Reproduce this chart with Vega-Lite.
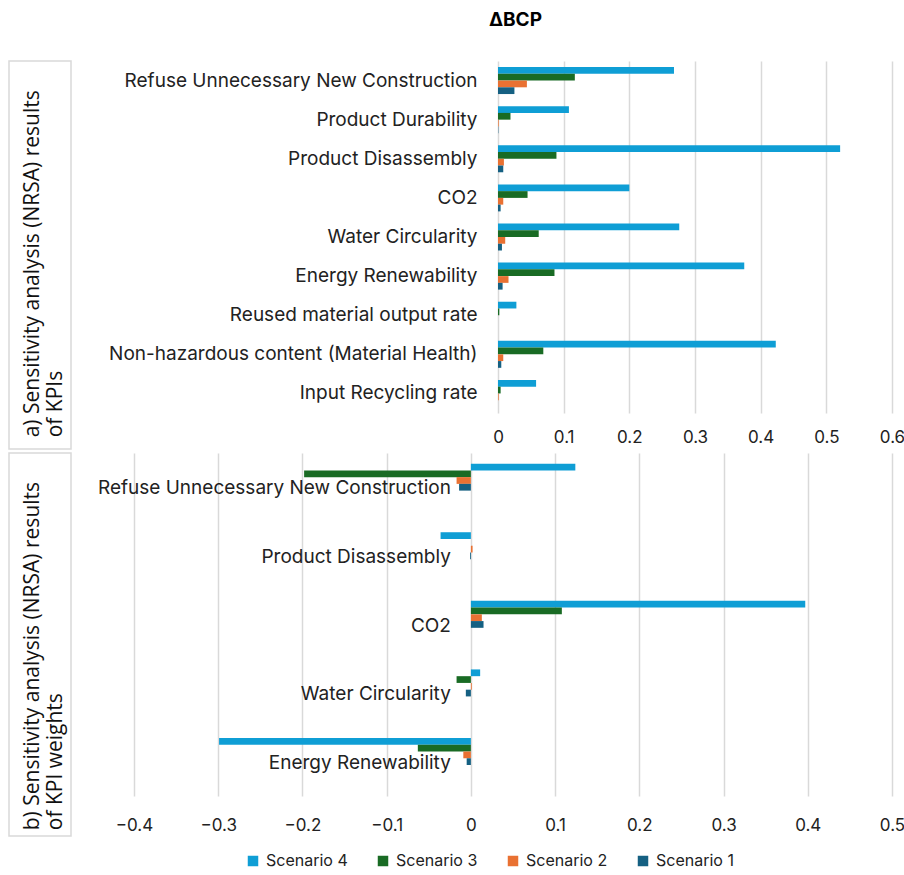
{
  "$schema": "https://vega.github.io/schema/vega-lite/v6.json",
  "padding": {"left": 8, "top": 11, "right": 5, "bottom": 5},
  "title": {"text": "ΔBCP", "fontSize": 19, "fontWeight": "bold", "font": "Inter", "color": "#000000", "anchor": "middle", "dx": 59, "offset": 30},
  "datasets": {
    "kpi": [
      {"category": "Refuse Unnecessary New Construction", "scenario": "Scenario 4", "value": 0.268},
      {"category": "Refuse Unnecessary New Construction", "scenario": "Scenario 3", "value": 0.117},
      {"category": "Refuse Unnecessary New Construction", "scenario": "Scenario 2", "value": 0.044},
      {"category": "Refuse Unnecessary New Construction", "scenario": "Scenario 1", "value": 0.025},
      {"category": "Product Durability", "scenario": "Scenario 4", "value": 0.108},
      {"category": "Product Durability", "scenario": "Scenario 3", "value": 0.019},
      {"category": "Product Durability", "scenario": "Scenario 2", "value": 0.001},
      {"category": "Product Durability", "scenario": "Scenario 1", "value": 0.0005},
      {"category": "Product Disassembly", "scenario": "Scenario 4", "value": 0.521},
      {"category": "Product Disassembly", "scenario": "Scenario 3", "value": 0.089},
      {"category": "Product Disassembly", "scenario": "Scenario 2", "value": 0.009},
      {"category": "Product Disassembly", "scenario": "Scenario 1", "value": 0.008},
      {"category": "CO2", "scenario": "Scenario 4", "value": 0.2},
      {"category": "CO2", "scenario": "Scenario 3", "value": 0.045},
      {"category": "CO2", "scenario": "Scenario 2", "value": 0.008},
      {"category": "CO2", "scenario": "Scenario 1", "value": 0.004},
      {"category": "Water Circularity", "scenario": "Scenario 4", "value": 0.276},
      {"category": "Water Circularity", "scenario": "Scenario 3", "value": 0.062},
      {"category": "Water Circularity", "scenario": "Scenario 2", "value": 0.011},
      {"category": "Water Circularity", "scenario": "Scenario 1", "value": 0.006},
      {"category": "Energy Renewability", "scenario": "Scenario 4", "value": 0.375},
      {"category": "Energy Renewability", "scenario": "Scenario 3", "value": 0.086},
      {"category": "Energy Renewability", "scenario": "Scenario 2", "value": 0.016},
      {"category": "Energy Renewability", "scenario": "Scenario 1", "value": 0.007},
      {"category": "Reused material output rate", "scenario": "Scenario 4", "value": 0.028},
      {"category": "Reused material output rate", "scenario": "Scenario 3", "value": 0.002},
      {"category": "Reused material output rate", "scenario": "Scenario 2", "value": 0},
      {"category": "Reused material output rate", "scenario": "Scenario 1", "value": 0},
      {"category": "Non-hazardous content (Material Health)", "scenario": "Scenario 4", "value": 0.423},
      {"category": "Non-hazardous content (Material Health)", "scenario": "Scenario 3", "value": 0.069},
      {"category": "Non-hazardous content (Material Health)", "scenario": "Scenario 2", "value": 0.008},
      {"category": "Non-hazardous content (Material Health)", "scenario": "Scenario 1", "value": 0.005},
      {"category": "Input Recycling rate", "scenario": "Scenario 4", "value": 0.058},
      {"category": "Input Recycling rate", "scenario": "Scenario 3", "value": 0.004},
      {"category": "Input Recycling rate", "scenario": "Scenario 2", "value": 0.001},
      {"category": "Input Recycling rate", "scenario": "Scenario 1", "value": 0}
    ],
    "weights": [
      {"category": "Refuse Unnecessary New Construction", "scenario": "Scenario 4", "value": 0.124},
      {"category": "Refuse Unnecessary New Construction", "scenario": "Scenario 3", "value": -0.198},
      {"category": "Refuse Unnecessary New Construction", "scenario": "Scenario 2", "value": -0.017},
      {"category": "Refuse Unnecessary New Construction", "scenario": "Scenario 1", "value": -0.014},
      {"category": "Product Disassembly", "scenario": "Scenario 4", "value": -0.036},
      {"category": "Product Disassembly", "scenario": "Scenario 3", "value": 0},
      {"category": "Product Disassembly", "scenario": "Scenario 2", "value": 0.002},
      {"category": "Product Disassembly", "scenario": "Scenario 1", "value": -0.001},
      {"category": "CO2", "scenario": "Scenario 4", "value": 0.397},
      {"category": "CO2", "scenario": "Scenario 3", "value": 0.108},
      {"category": "CO2", "scenario": "Scenario 2", "value": 0.013},
      {"category": "CO2", "scenario": "Scenario 1", "value": 0.015},
      {"category": "Water Circularity", "scenario": "Scenario 4", "value": 0.011},
      {"category": "Water Circularity", "scenario": "Scenario 3", "value": -0.017},
      {"category": "Water Circularity", "scenario": "Scenario 2", "value": 0.001},
      {"category": "Water Circularity", "scenario": "Scenario 1", "value": -0.006},
      {"category": "Energy Renewability", "scenario": "Scenario 4", "value": -0.299},
      {"category": "Energy Renewability", "scenario": "Scenario 3", "value": -0.063},
      {"category": "Energy Renewability", "scenario": "Scenario 2", "value": -0.009},
      {"category": "Energy Renewability", "scenario": "Scenario 1", "value": -0.005}
    ]
  },
  "spacing": 2,
  "vconcat": [
    {
      "bounds": "flush",
      "spacing": 427,
      "hconcat": [
        {
          "width": 62,
          "height": 388,
          "view": {"stroke": "#d9d9d9", "strokeWidth": 1.5},
          "data": {"values": [{"t": "a) Sensitivity analysis (NRSA) results\nof KPIs"}]},
          "mark": {"type": "text", "angle": 270, "align": "left", "baseline": "middle", "font": "Open Sans", "fontSize": 21, "lineHeight": 23, "lineBreak": "\n", "color": "#111111"},
          "encoding": {
            "text": {"field": "t"},
            "x": {"datum": 0.38, "type": "quantitative", "scale": {"domain": [0, 1]}, "axis": null},
            "y": {"datum": 0.03, "type": "quantitative", "scale": {"domain": [0, 1]}, "axis": null}
          }
        },
        {
          "width": 394,
          "height": 352,
          "data": {"name": "kpi"},
          "mark": {"type": "bar"},
          "encoding": {
            "y": {"field": "category", "type": "nominal",
              "sort": ["Refuse Unnecessary New Construction", "Product Durability", "Product Disassembly", "CO2", "Water Circularity", "Energy Renewability", "Reused material output rate", "Non-hazardous content (Material Health)", "Input Recycling rate"],
              "scale": {"paddingInner": 0.31, "paddingOuter": 0.155},
              "axis": {"title": null, "domain": false, "ticks": false, "labelFontSize": 19, "labelPadding": 21, "labelLimit": 600}},
            "yOffset": {"field": "scenario", "type": "nominal", "sort": ["Scenario 4", "Scenario 3", "Scenario 2", "Scenario 1"], "scale": {"paddingInner": 0, "paddingOuter": 0}},
            "x": {"field": "value", "type": "quantitative", "scale": {"domain": [0, 0.6], "nice": false},
              "axis": {"title": null, "values": [0, 0.1, 0.2, 0.3, 0.4, 0.5, 0.6], "format": ".1~f", "grid": true, "domain": false, "ticks": false, "labelFlush": false, "labelPadding": 16, "labelFontSize": 17}},
            "color": {"field": "scenario", "type": "nominal",
              "scale": {"domain": ["Scenario 4", "Scenario 3", "Scenario 2", "Scenario 1"], "range": ["#0F9ED5", "#196B24", "#E97132", "#156082"]},
              "legend": {"title": null, "orient": "none", "legendX": 236, "legendY": 792, "direction": "horizontal", "symbolType": "square", "symbolSize": 110, "symbolStrokeWidth": 0, "labelFontSize": 16, "labelFont": "Inter", "labelColor": "#222222", "columnPadding": 27, "labelOffset": 5}}
          }
        }
      ]
    },
    {
      "bounds": "flush",
      "spacing": 63,
      "hconcat": [
        {
          "width": 62,
          "height": 383,
          "view": {"stroke": "#d9d9d9", "strokeWidth": 1.5},
          "data": {"values": [{"t": "b) Sensitivity analysis (NRSA) results\nof KPI weights"}]},
          "mark": {"type": "text", "angle": 270, "align": "left", "baseline": "middle", "font": "Open Sans", "fontSize": 21, "lineHeight": 23, "lineBreak": "\n", "color": "#111111"},
          "encoding": {
            "text": {"field": "t"},
            "x": {"datum": 0.38, "type": "quantitative", "scale": {"domain": [0, 1]}, "axis": null},
            "y": {"datum": 0.015, "type": "quantitative", "scale": {"domain": [0, 1]}, "axis": null}
          }
        },
        {
          "width": 758,
          "height": 343,
          "data": {"name": "weights"},
          "encoding": {
            "y": {"field": "category", "type": "nominal",
              "sort": ["Refuse Unnecessary New Construction", "Product Disassembly", "CO2", "Water Circularity", "Energy Renewability"],
              "scale": {"paddingInner": 0.31, "paddingOuter": 0.155},
              "axis": null}
          },
          "layer": [
            {
              "mark": {"type": "bar"},
              "encoding": {
                "yOffset": {"field": "scenario", "type": "nominal", "sort": ["Scenario 4", "Scenario 3", "Scenario 2", "Scenario 1"], "scale": {"paddingInner": 0, "paddingOuter": 0}},
                "x": {"field": "value", "type": "quantitative", "scale": {"domain": [-0.4, 0.5], "nice": false},
                  "axis": {"title": null, "values": [-0.4, -0.3, -0.2, -0.1, 0, 0.1, 0.2, 0.3, 0.4, 0.5], "format": ".1~f", "grid": true, "domain": false, "ticks": false, "labelFlush": false, "labelPadding": 21, "labelFontSize": 17}},
                "color": {"field": "scenario", "type": "nominal",
                  "scale": {"domain": ["Scenario 4", "Scenario 3", "Scenario 2", "Scenario 1"], "range": ["#0F9ED5", "#196B24", "#E97132", "#156082"]},
                  "legend": {"title": null, "orient": "none", "legendX": 236, "legendY": 792, "direction": "horizontal", "symbolType": "square", "symbolSize": 110, "symbolStrokeWidth": 0, "labelFontSize": 16, "labelFont": "Inter", "labelColor": "#222222", "columnPadding": 27, "labelOffset": 5}}
              }
            },
            {
              "transform": [{"aggregate": [{"op": "count", "as": "n"}], "groupby": ["category"]}],
              "mark": {"type": "text", "align": "right", "baseline": "middle", "dx": -20, "dy": 1, "fontSize": 19, "font": "Inter", "color": "#222222"},
              "encoding": {
                "x": {"datum": 0, "type": "quantitative"},
                "text": {"field": "category", "type": "nominal"}
              }
            }
          ]
        }
      ]
    }
  ],
  "resolve": {"scale": {"color": "shared"}},
  "config": {
    "font": "Inter",
    "view": {"stroke": null},
    "axis": {"labelFont": "Inter", "labelColor": "#222222", "gridColor": "#d9d9d9", "gridWidth": 1.5},
    "legend": {"labelFont": "Inter"}
  }
}
